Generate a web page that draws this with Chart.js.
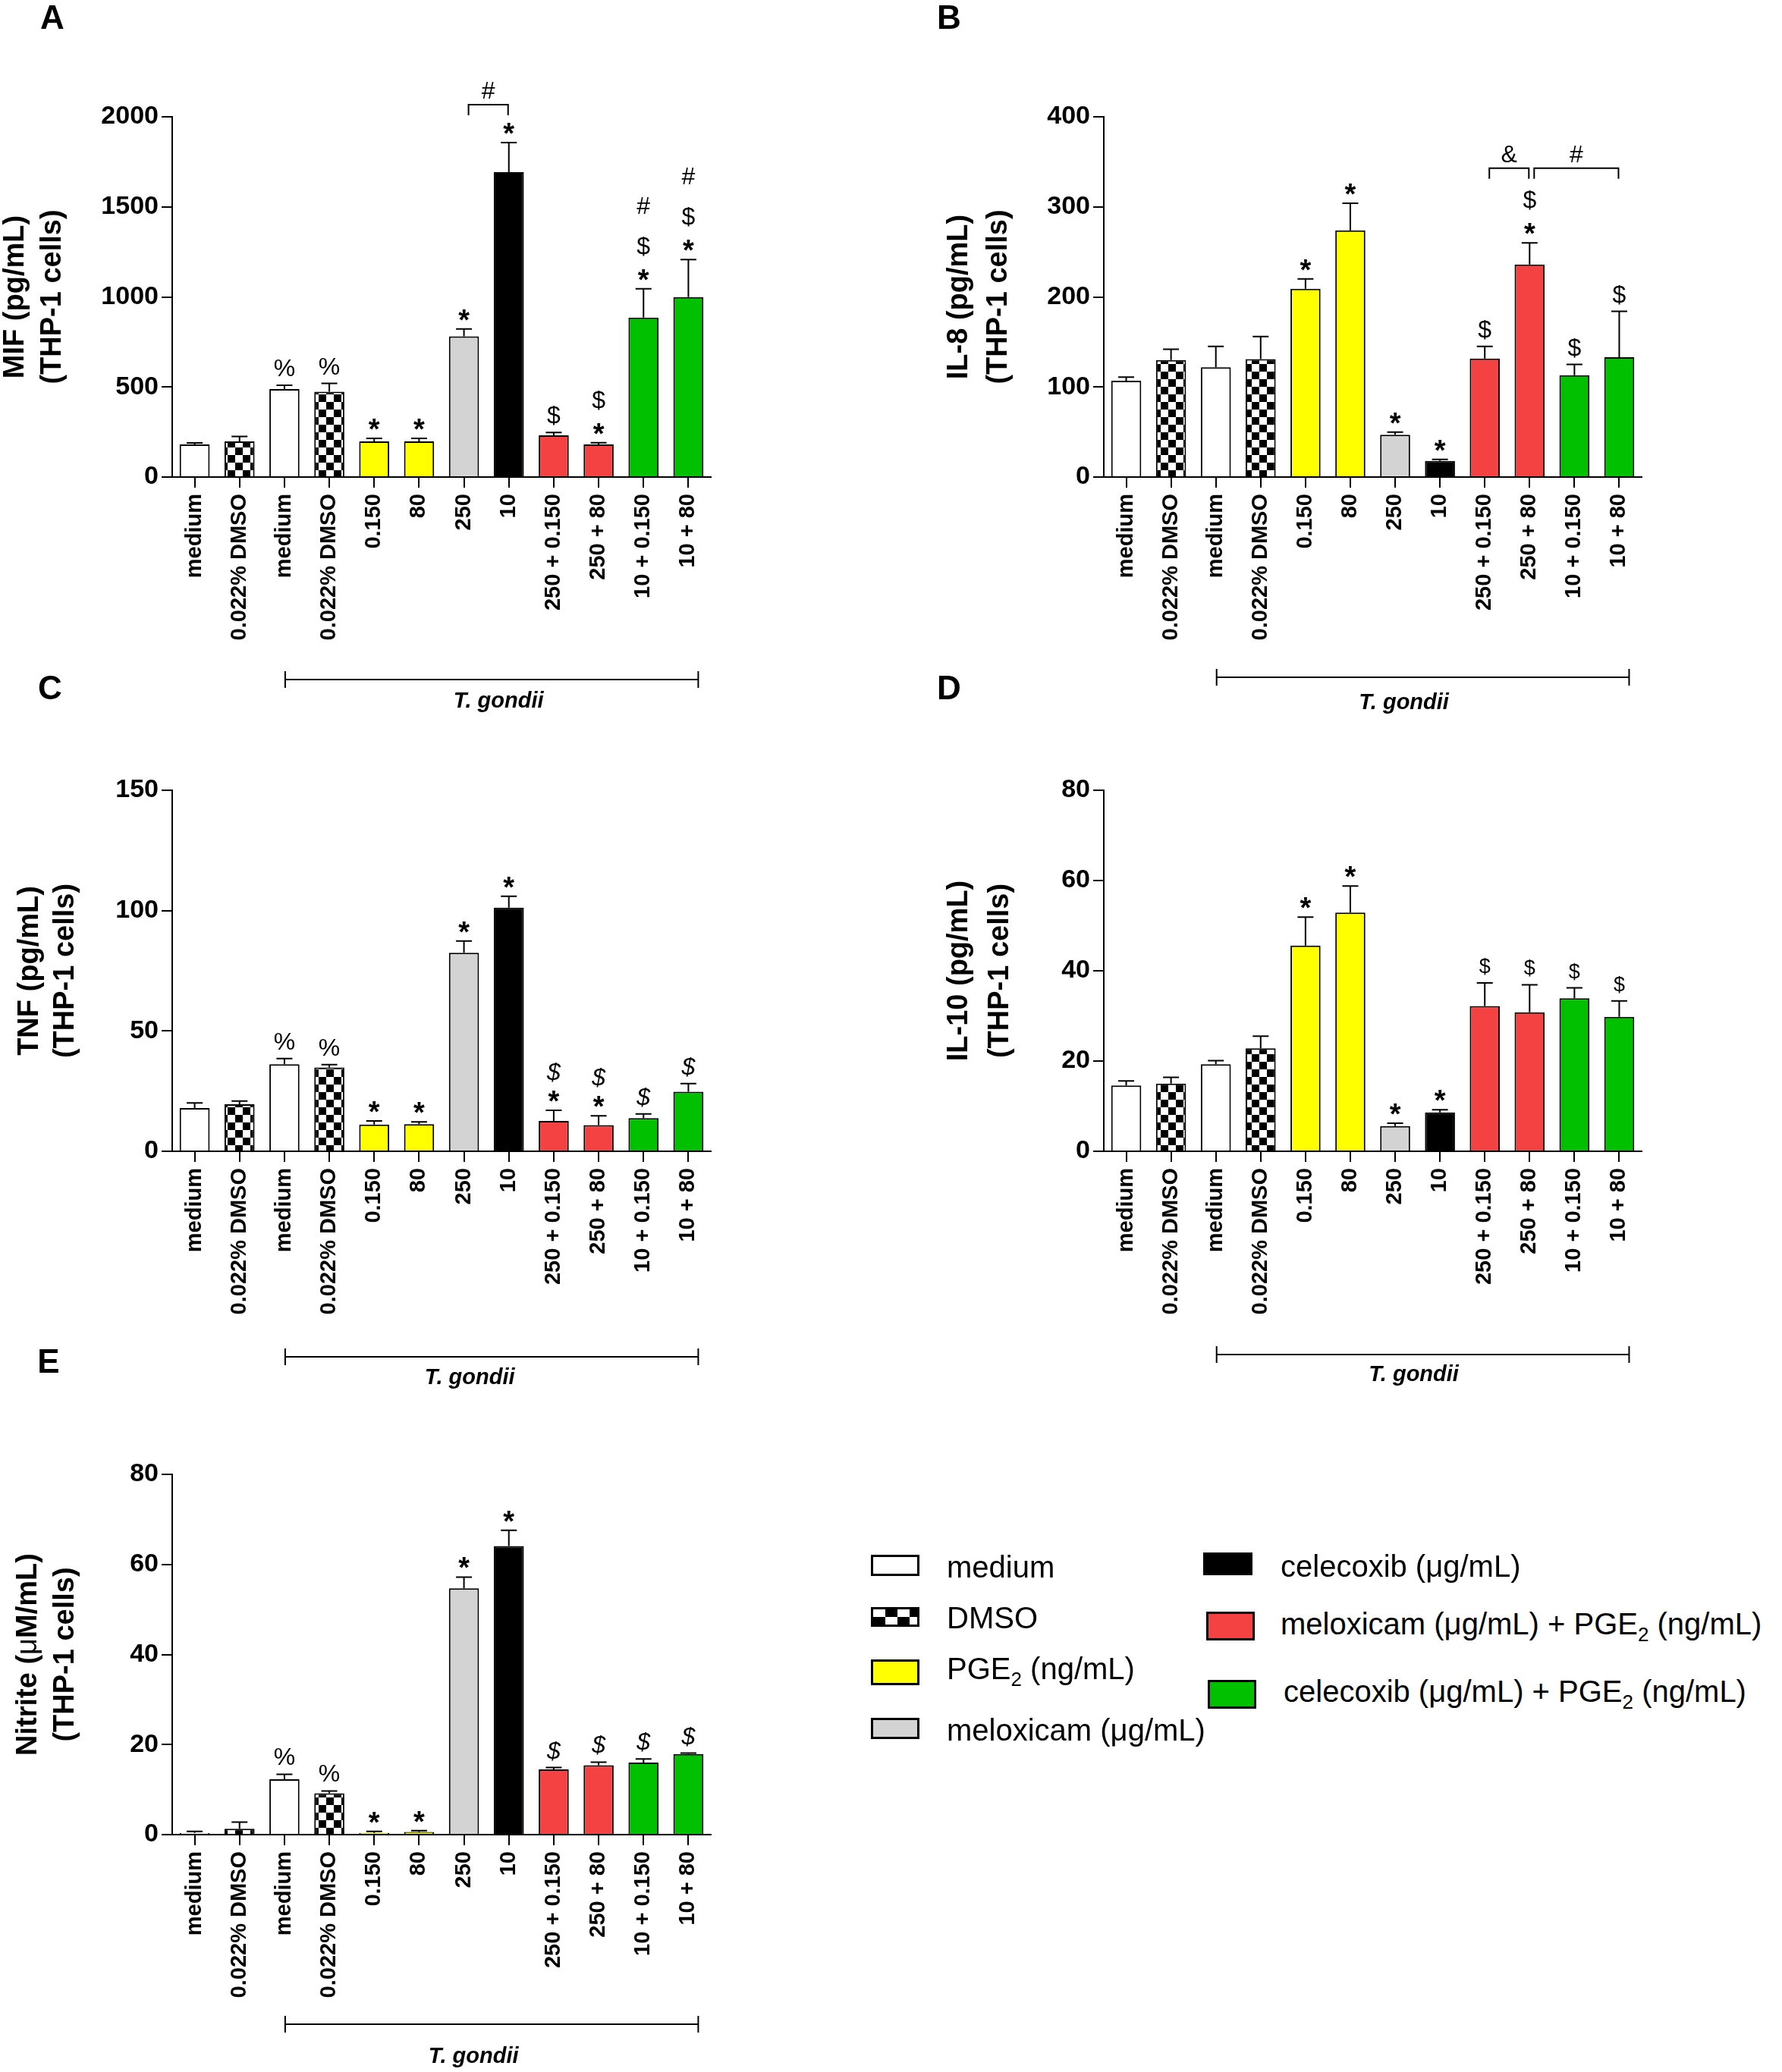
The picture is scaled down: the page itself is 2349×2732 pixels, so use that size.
<!DOCTYPE html>
<html>
<head>
<meta charset="utf-8">
<script src="https://cdn.jsdelivr.net/npm/chart.js@4.4.0/dist/chart.umd.min.js"></script>
<style>
  html, body { margin: 0; padding: 0; background: #fff; }
  body { position: relative; width: 2349px; height: 2732px; overflow: hidden; font-family: "Liberation Sans", Arial, sans-serif; }
  .panel { position: absolute; }
  .lg-box { position: absolute; box-sizing: border-box; border: 3px solid #000; }
  .lg-text { position: absolute; font-size: 40px; line-height: 1; color: #000; transform: translateY(-50%); white-space: nowrap; }
  .lg-text sub { font-size: 26px; line-height: 0; vertical-align: -9px; }
</style>
</head>
<body>
<div class="panel" style="left:0;top:0"><canvas id="chartA" width="1180" height="960"></canvas></div>
<div class="panel" style="left:1180px;top:0"><canvas id="chartB" width="1169" height="960"></canvas></div>
<div class="panel" style="left:0;top:880px"><canvas id="chartC" width="1180" height="960"></canvas></div>
<div class="panel" style="left:1180px;top:880px"><canvas id="chartD" width="1169" height="960"></canvas></div>
<div class="panel" style="left:0;top:1760px"><canvas id="chartE" width="1180" height="972"></canvas></div>

<!-- legend -->
<div class="lg-box" style="left:1148px;top:2050px;width:64px;height:28px;background:#fff"></div>
<div class="lg-text" style="left:1248px;top:2066px">medium</div>
<div class="lg-box" style="left:1148px;top:2119px;width:64px;height:26px;background:repeating-conic-gradient(#000 0 25%, #fff 0 50%) 0 0/32px 20px"></div>
<div class="lg-text" style="left:1248px;top:2133px">DMSO</div>
<div class="lg-box" style="left:1148px;top:2188px;width:64px;height:34px;background:#ffff00"></div>
<div class="lg-text" style="left:1248px;top:2200px">PGE<sub>2</sub> (ng/mL)</div>
<div class="lg-box" style="left:1148px;top:2265px;width:64px;height:28px;background:#d3d3d3"></div>
<div class="lg-text" style="left:1248px;top:2281px">meloxicam (μg/mL)</div>
<div class="lg-box" style="left:1586px;top:2047px;width:65px;height:30px;background:#000"></div>
<div class="lg-text" style="left:1688px;top:2065px">celecoxib (μg/mL)</div>
<div class="lg-box" style="left:1590px;top:2125px;width:64px;height:38px;background:#f44242"></div>
<div class="lg-text" style="left:1688px;top:2141px">meloxicam (μg/mL) + PGE<sub>2</sub> (ng/mL)</div>
<div class="lg-box" style="left:1592px;top:2215px;width:64px;height:38px;background:#00c000"></div>
<div class="lg-text" style="left:1692px;top:2230px">celecoxib (μg/mL) + PGE<sub>2</sub> (ng/mL)</div>

<script>
// groups on the x axis (same for every panel)
const categories = ["medium", "0.022% DMSO", "medium", "0.022% DMSO", "0.150", "80", "250", "10",
    "250 + 0.150", "250 + 80", "10 + 0.150", "10 + 80"];
const groupType = ["medium", "dmso", "medium", "dmso", "pge2", "pge2", "meloxicam", "celecoxib",
    "meloxicamPge2", "meloxicamPge2", "celecoxibPge2", "celecoxibPge2"];

// A - MIF
const mifMean = [181, 198, 488, 474, 198, 198, 781, 1693, 232, 181, 885, 999];
const mifSem = [8, 27, 22, 46, 17, 17, 41, 164, 15, 10, 160, 208];
const mifMarks = [[], [], ["%"], ["%"], ["*"], ["*"], ["*"], ["*"], ["$"], ["*", "$"], ["*", "$", "#"], ["*", "$", "#"]];
const mifBrackets = [{ from: 6, to: 7, at: 2067, label: "#" }];

// B - IL-8
const il8Mean = [107, 130, 122, 131, 209, 274, 47, 18, 131.5, 236, 113, 133];
const il8Sem = [4, 12, 23, 25, 11, 30, 3, 1.5, 13.5, 24, 12, 51];
const il8Marks = [[], [], [], [], ["*"], ["*"], ["*"], ["*"], ["$"], ["*", "$"], ["$"], ["$"]];
const il8Brackets = [{ from: 8, to: 9, at: 343, label: "&" }, { from: 9, to: 11, at: 343, label: "#" }];

// C - TNF
const tnfMean = [18.0, 19.5, 36.2, 34.8, 11.1, 11.3, 82.5, 101.2, 12.6, 10.9, 13.8, 24.7];
const tnfSem = [2.1, 1.4, 2.3, 1.2, 1.5, 0.9, 4.9, 4.8, 4.4, 3.8, 1.7, 3.4];
const tnfMarks = [[], [], ["%"], ["%"], ["*"], ["*"], ["*"], ["*"], ["*", "$"], ["*", "$"], ["$"], ["$"]];

// D - IL-10
const il10Mean = [14.6, 15.0, 19.3, 22.8, 45.6, 52.9, 5.6, 8.6, 32.2, 30.8, 33.9, 29.8];
const il10Sem = [1.0, 1.4, 0.8, 2.7, 6.3, 5.9, 0.6, 0.6, 5.1, 6.1, 2.3, 3.5];
const il10Marks = [[], [], [], [], ["*"], ["*"], ["*"], ["*"], ["$"], ["$"], ["$"], ["$"]];

// E - Nitrite
const nitMean = [0.4, 1.3, 12.3, 9.2, 0.4, 0.6, 54.7, 64.1, 14.5, 15.4, 16.0, 17.9];
const nitSem = [0.3, 1.5, 1.1, 0.5, 0.3, 0.3, 2.5, 3.5, 0.4, 0.7, 0.8, 0.2];
const nitMarks = [[], [], ["%"], ["%"], ["*"], ["*"], ["*"], ["*"], ["$"], ["$"], ["$"], ["$"]];

const FONT = "'Liberation Sans', Arial, sans-serif";

// checkerboard for the DMSO bars
function checker() {
    const c = document.createElement("canvas");
    c.width = 20; c.height = 20;
    const g = c.getContext("2d");
    g.fillStyle = "#fff"; g.fillRect(0, 0, 20, 20);
    g.fillStyle = "#000"; g.fillRect(0, 0, 10, 10); g.fillRect(10, 10, 10, 10);
    return g.createPattern(c, "repeat");
}
const dmsoFill = checker();
const fills = {
    medium: "#ffffff", dmso: dmsoFill, pge2: "#ffff00", meloxicam: "#d3d3d3",
    celecoxib: "#000000", meloxicamPge2: "#f44242", celecoxibPge2: "#00c000",
};

// error bars, significance symbols, brackets, titles
const decor = {
    id: "decor",
    afterDatasetsDraw(chart, args, o) {
        const ctx = chart.ctx, xs = chart.scales.x, ys = chart.scales.y, area = chart.chartArea;
        ctx.save();
        ctx.strokeStyle = "#000";
        ctx.fillStyle = "#000";
        ctx.lineWidth = 2;
        ctx.textAlign = "center";
        ctx.textBaseline = "alphabetic";

        o.mean.forEach((m, i) => {
            const cx = xs.getPixelForValue(i);
            const yb = ys.getPixelForValue(m);
            const yt = ys.getPixelForValue(m + o.sem[i]);
            ctx.beginPath();
            ctx.moveTo(cx, yb); ctx.lineTo(cx, yt);
            ctx.moveTo(cx - 10.5, yt); ctx.lineTo(cx + 10.5, yt);
            ctx.stroke();

            let base = null, prev = null;
            o.marks[i].forEach((s) => {
                if (base === null) base = yt - (s === "*" ? -1 : o.firstGap);
                else base -= (prev === "*" ? o.step : o.step + 6);
                if (s === "*") ctx.font = "bold 38px " + FONT;
                else if (s === "$") ctx.font = o.dollarFont;
                else ctx.font = "32px " + FONT;
                ctx.fillText(s, cx, base);
                prev = s;
            });
        });

        (o.brackets || []).forEach((b) => {
            const x1 = xs.getPixelForValue(b.from) + 6;
            const x2 = xs.getPixelForValue(b.to) - 1;
            const yy = ys.getPixelForValue(b.at);
            ctx.beginPath();
            ctx.moveTo(x1, yy + 14); ctx.lineTo(x1, yy); ctx.lineTo(x2, yy); ctx.lineTo(x2, yy + 14);
            ctx.stroke();
            ctx.font = "32px " + FONT;
            ctx.fillText(b.label, (x1 + x2) / 2, yy - 8);
        });

        // T. gondii bracket under the infected groups
        const tx1 = xs.getPixelForValue(2) + 1, tx2 = xs.getPixelForValue(11) + 13;
        const ty = area.bottom + o.tg.dy;
        ctx.beginPath();
        ctx.moveTo(tx1, ty); ctx.lineTo(tx2, ty);
        ctx.moveTo(tx1, ty - 11); ctx.lineTo(tx1, ty + 11);
        ctx.moveTo(tx2, ty - 11); ctx.lineTo(tx2, ty + 11);
        ctx.stroke();
        ctx.font = "italic bold 29px " + FONT;
        ctx.textBaseline = "middle";
        ctx.fillText("T. gondii", (tx1 + tx2) / 2 + o.tg.dx, ty + o.tg.labelDy);

        // panel letter
        ctx.font = "bold 44px " + FONT;
        ctx.fillText(o.letter, o.letterX, o.letterY);

        // y-axis title, two rotated lines
        const cy = (area.top + area.bottom) / 2;
        o.title.forEach((line, li) => {
            ctx.save();
            ctx.translate(o.titleX[li], cy);
            ctx.rotate(-Math.PI / 2);
            let total = 0;
            line.forEach((seg) => { ctx.font = seg[1] + " 38px " + FONT; total += ctx.measureText(seg[0]).width; });
            let px = -total / 2;
            ctx.textAlign = "left";
            line.forEach((seg) => {
                ctx.font = seg[1] + " 38px " + FONT;
                ctx.fillText(seg[0], px, 0);
                px += ctx.measureText(seg[0]).width;
            });
            ctx.restore();
        });
        ctx.restore();
    },
};

function makePanel(id, mean, sem, marks, brackets, p) {
    const canvas = document.getElementById(id);
    const W = canvas.width, H = canvas.height;
    return new Chart(canvas, {
        type: "bar",
        data: {
            labels: categories,
            datasets: [{
                data: mean,
                backgroundColor: groupType.map((t) => fills[t]),
                borderColor: "#000",
                borderWidth: 2,
                barPercentage: 0.67,
                categoryPercentage: 1,
            }],
        },
        options: {
            responsive: false,
            animation: false,
            devicePixelRatio: 1,
            layout: { padding: { top: p.area.top, right: W - p.area.right, left: 0, bottom: 0 } },
            plugins: {
                legend: { display: false },
                tooltip: { enabled: false },
                decor: {
                    mean: mean, sem: sem, marks: marks, brackets: brackets,
                    step: p.step || 47, firstGap: p.firstGap || 12,
                    dollarFont: p.dollarFont || "32px " + FONT,
                    tg: p.tg, letter: p.letter, letterX: p.letterX, letterY: p.letterY,
                    title: p.title, titleX: p.titleX,
                },
            },
            scales: {
                x: {
                    offset: true,
                    afterFit: (s) => { s.height = H - p.area.bottom; },
                    border: { color: "#000", width: 2 },
                    grid: { drawOnChartArea: false, offset: false, color: "#000", lineWidth: 2, tickLength: 14 },
                    ticks: {
                        autoSkip: false, minRotation: 90, maxRotation: 90, padding: 8, color: "#000",
                        font: { family: FONT, weight: "bold", size: 29 },
                    },
                },
                y: {
                    min: 0,
                    max: p.yMax,
                    afterFit: (s) => { s.width = p.area.left; },
                    border: { color: "#000", width: 2 },
                    grid: { drawOnChartArea: false, color: "#000", lineWidth: 2, tickLength: 14 },
                    ticks: {
                        stepSize: p.yStep, padding: 4, color: "#000",
                        callback: (v) => String(v),
                        font: { family: FONT, weight: "bold", size: 34 },
                    },
                },
            },
        },
        plugins: [decor],
    });
}

makePanel("chartA", mifMean, mifSem, mifMarks, mifBrackets, {
    area: { left: 227, top: 154, right: 937, bottom: 629 }, yMax: 2000, yStep: 500,
    letter: "A", letterX: 69, letterY: 26, titleX: [21, 70],
    title: [[["MIF (pg/mL)", "bold"]], [["(THP-1 cells)", "bold"]]],
    tg: { dy: 267, labelDy: 29, dx: 9 },
});
makePanel("chartB", il8Mean, il8Sem, il8Marks, il8Brackets, {
    area: { left: 275, top: 154, right: 984, bottom: 629 }, yMax: 400, yStep: 100,
    letter: "B", letterX: 71, letterY: 26, titleX: [85, 137],
    title: [[["IL-8 (pg/mL)", "bold"]], [["(THP-1 cells)", "bold"]]],
    tg: { dy: 264, labelDy: 34, dx: -25 },
});
makePanel("chartC", tnfMean, tnfSem, tnfMarks, [], {
    area: { left: 227, top: 162, right: 937, bottom: 638 }, yMax: 150, yStep: 50,
    letter: "C", letterX: 66, letterY: 30, titleX: [40, 87], step: 41,
    dollarFont: "italic 32px " + FONT,
    title: [[["TNF (pg/mL)", "bold"]], [["(THP-1 cells)", "bold"]]],
    tg: { dy: 271, labelDy: 28, dx: -29 },
});
makePanel("chartD", il10Mean, il10Sem, il10Marks, [], {
    area: { left: 275, top: 162, right: 984, bottom: 638 }, yMax: 80, yStep: 20,
    letter: "D", letterX: 71, letterY: 30, titleX: [85, 139], firstGap: 13,
    dollarFont: "27px " + FONT,
    title: [[["IL-10 (pg/mL)", "bold"]], [["(THP-1 cells)", "bold"]]],
    tg: { dy: 268, labelDy: 27, dx: -12 },
});
makePanel("chartE", nitMean, nitSem, nitMarks, [], {
    area: { left: 227, top: 184, right: 937, bottom: 659 }, yMax: 80, yStep: 20,
    letter: "E", letterX: 64, letterY: 38, titleX: [38, 87],
    dollarFont: "italic 32px " + FONT,
    title: [[["Nitrite (", "bold"], ["μ", "normal"], ["M/mL)", "bold"]], [["(THP-1 cells)", "bold"]]],
    tg: { dy: 250, labelDy: 43, dx: -24 },
});
</script>
</body>
</html>
